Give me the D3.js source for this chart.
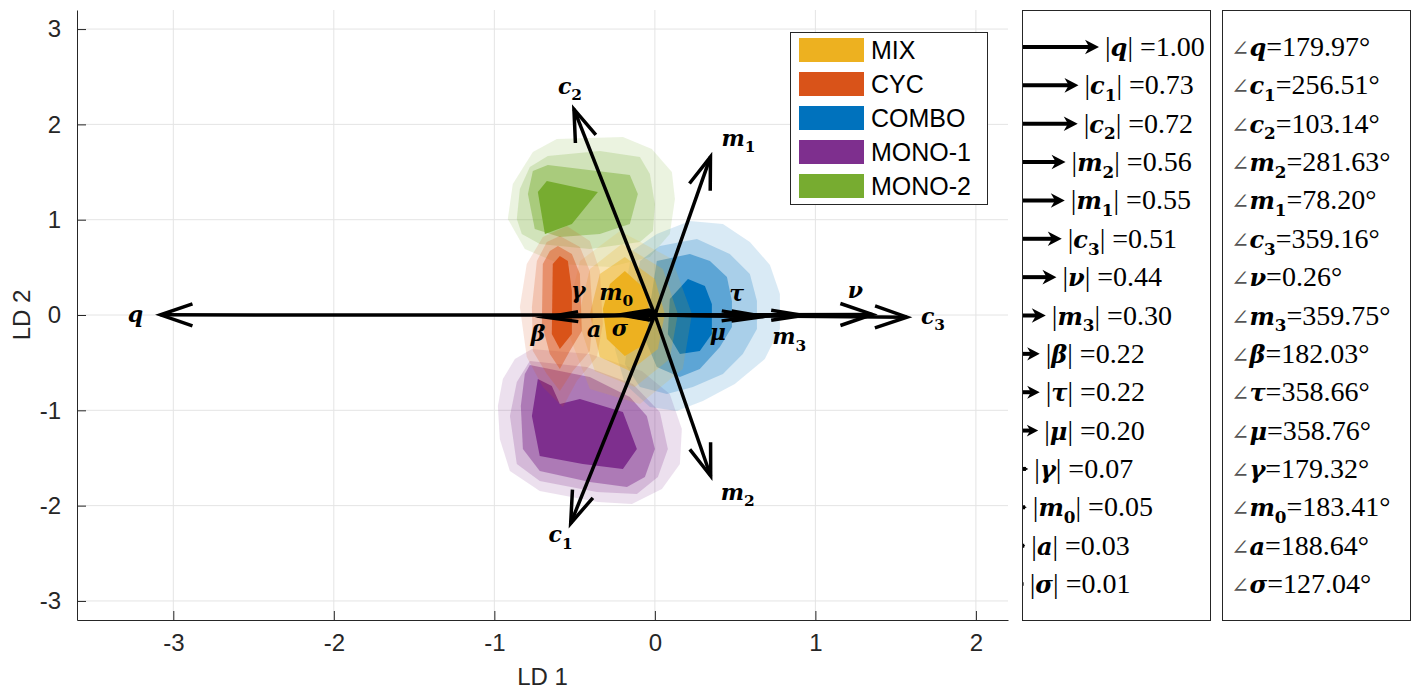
<!DOCTYPE html>
<html>
<head>
<meta charset="utf-8">
<script src="https://cdn.jsdelivr.net/npm/d3@7"></script>
<style>
  body { margin: 0; background: #fff; }
  svg { display: block; }
</style>
</head>
<body>
<svg id="chart" width="1413" height="690"></svg>
<script>
// groups and colours
const groups = ["MIX", "CYC", "COMBO", "MONO-1", "MONO-2"];
const groupColors = ["#EDB120", "#D95319", "#0072BD", "#7E2F8E", "#77AC30"];

// density contour levels per group (outer -> inner), in LD coordinates
const mixLevels = [
  [[-0.218,0.881],[0.106,0.588],[0.231,0.010],[0.174,-0.567],[-0.093,-0.934],[-0.405,-0.777],[-0.561,-0.094],[-0.467,0.567]],
  [[-0.206,0.745],[0.050,0.483],[0.143,0.010],[0.093,-0.462],[-0.125,-0.756],[-0.374,-0.588],[-0.480,-0.042],[-0.405,0.483]],
  [[-0.187,0.609],[0.000,0.378],[0.062,0.010],[0.019,-0.357],[-0.156,-0.588],[-0.343,-0.441],[-0.405,0.010],[-0.343,0.430]],
  [[-0.187,0.462],[-0.062,0.273],[-0.031,0.010],[-0.062,-0.304],[-0.187,-0.430],[-0.299,-0.252],[-0.324,0.063],[-0.280,0.325]]
];
const cycLevels = [
  [[-0.548,0.934],[-0.405,0.776],[-0.343,0.462],[-0.324,-0.094],[-0.361,-0.441],[-0.486,-0.693],[-0.573,-0.965],[-0.698,-0.756],[-0.798,-0.441],[-0.841,0.084],[-0.798,0.535],[-0.698,0.818]],
  [[-0.592,0.829],[-0.467,0.714],[-0.405,0.462],[-0.386,-0.021],[-0.405,-0.378],[-0.511,-0.588],[-0.592,-0.797],[-0.673,-0.619],[-0.760,-0.378],[-0.766,0.084],[-0.735,0.567],[-0.673,0.766]],
  [[-0.604,0.724],[-0.517,0.640],[-0.467,0.430],[-0.455,-0.168],[-0.530,-0.378],[-0.592,-0.567],[-0.654,-0.409],[-0.704,-0.094],[-0.698,0.535],[-0.654,0.672]],
  [[-0.592,0.619],[-0.542,0.567],[-0.517,0.252],[-0.517,-0.199],[-0.592,-0.357],[-0.642,-0.199],[-0.636,0.535]]
];
const comboLevels = [
  [[-0.143,0.672],[0.012,0.850],[0.218,0.986],[0.424,0.955],[0.592,0.766],[0.717,0.525],[0.779,0.220],[0.779,-0.147],[0.685,-0.462],[0.498,-0.724],[0.299,-0.902],[0.137,-1.007],[-0.031,-0.965],[-0.187,-0.724],[-0.249,-0.357]],
  [[-0.093,0.567],[0.031,0.724],[0.262,0.797],[0.467,0.640],[0.592,0.430],[0.636,0.147],[0.636,-0.147],[0.548,-0.409],[0.424,-0.619],[0.237,-0.756],[0.075,-0.829],[-0.093,-0.756],[-0.187,-0.514]],
  [[0.012,0.567],[0.218,0.640],[0.343,0.567],[0.449,0.399],[0.480,0.147],[0.480,-0.126],[0.405,-0.336],[0.280,-0.567],[0.156,-0.651],[0.012,-0.546],[-0.062,-0.252]],
  [[0.206,0.378],[0.312,0.304],[0.355,0.115],[0.355,-0.199],[0.280,-0.378],[0.156,-0.409],[0.081,-0.199],[0.093,0.168]]
];
const mono1Levels = [
  [[-0.947,-0.672],[-0.872,-0.462],[-0.766,-0.357],[-0.405,-0.409],[-0.081,-0.588],[0.093,-0.829],[0.168,-1.196],[0.156,-1.563],[0.044,-1.826],[-0.143,-1.983],[-0.355,-1.962],[-0.717,-1.847],[-0.903,-1.637],[-0.966,-1.301],[-0.978,-0.955]],
  [[-0.860,-0.703],[-0.779,-0.483],[-0.424,-0.546],[-0.137,-0.724],[0.031,-1.018],[0.081,-1.406],[0.019,-1.700],[-0.112,-1.878],[-0.361,-1.857],[-0.717,-1.742],[-0.860,-1.563],[-0.903,-1.060]],
  [[-0.810,-0.619],[-0.779,-0.525],[-0.405,-0.651],[-0.156,-0.860],[-0.050,-1.060],[0.000,-1.406],[-0.062,-1.700],[-0.174,-1.805],[-0.405,-1.752],[-0.717,-1.637],[-0.822,-1.406],[-0.835,-0.955]],
  [[-0.729,-0.672],[-0.642,-0.745],[-0.592,-0.934],[-0.467,-0.881],[-0.199,-1.018],[-0.112,-1.406],[-0.199,-1.616],[-0.449,-1.563],[-0.717,-1.480],[-0.766,-1.060]]
];
const mono2Levels = [
  [[-0.916,1.007],[-0.885,1.375],[-0.760,1.710],[-0.611,1.847],[-0.199,1.868],[-0.019,1.742],[0.106,1.501],[0.125,1.217],[0.093,0.850],[-0.031,0.609],[-0.280,0.504],[-0.592,0.535],[-0.810,0.693]],
  [[-0.860,1.007],[-0.841,1.322],[-0.779,1.553],[-0.667,1.668],[-0.343,1.721],[-0.093,1.658],[-0.031,1.480],[0.000,1.165],[-0.012,0.881],[-0.093,0.766],[-0.405,0.693],[-0.717,0.745],[-0.829,0.850]],
  [[-0.791,1.270],[-0.760,1.511],[-0.667,1.574],[-0.156,1.469],[-0.106,1.270],[-0.156,0.955],[-0.343,0.850],[-0.592,0.818],[-0.748,0.902]],
  [[-0.729,1.291],[-0.673,1.406],[-0.355,1.291],[-0.517,0.955],[-0.685,0.850]]
];

// loading vectors (sorted by magnitude)
const vecKeys   = ["q", "c1", "c2", "m2", "m1", "c3", "nu", "m3", "beta", "tau", "mu", "gamma", "m0", "a", "sigma"];
const vecBase   = ["q", "c", "c", "m", "m", "c", "ν", "m", "β", "τ", "μ", "γ", "m", "a", "σ"];
const vecSub    = ["", "1", "2", "2", "1", "3", "", "3", "", "", "", "", "0", "", ""];
const vecMags   = [1.00, 0.73, 0.72, 0.56, 0.55, 0.51, 0.44, 0.30, 0.22, 0.22, 0.20, 0.07, 0.05, 0.03, 0.01];
const vecAngles = [179.97, 256.51, 103.14, 281.63, 78.20, 359.16, 0.26, 359.75, 182.03, 358.66, 358.76, 179.32, 183.41, 188.64, 127.04];

const xTicks = [-3, -2, -1, 0, 1, 2];
const yTicks = [-3, -2, -1, 0, 1, 2, 3];

const arrowScale = 3.08; // biplot scaling of loadings

var svg = d3.select("#chart");
var pL = 77, pR = 1008, pT = 10, pB = 620;

var x = d3.scaleLinear().domain([-3.6, 2.2]).range([pL, pR]);
var y = d3.scaleLinear().domain([-3.2, 3.2]).range([pB, pT]);

var sansFont = "'Liberation Sans', Arial, Helvetica, sans-serif";
var serifFont = "'DejaVu Serif', 'Liberation Serif', serif";
var numFont = "'Liberation Serif', 'Times New Roman', serif";

// grid
svg.append("g").selectAll("line").data(xTicks).enter().append("line")
    .attr("x1", d => x(d)).attr("x2", d => x(d))
    .attr("y1", pT).attr("y2", pB)
    .attr("stroke", "#e4e4e4").attr("stroke-width", 1);
svg.append("g").selectAll("line").data(yTicks).enter().append("line")
    .attr("y1", d => y(d)).attr("y2", d => y(d))
    .attr("x1", pL).attr("x2", pR)
    .attr("stroke", "#e4e4e4").attr("stroke-width", 1);

// contours
var levelOpacity = [0.15, 0.22, 0.45, 1.0];
var drawOrder = [
    { levels: mono1Levels, color: groupColors[3] },
    { levels: mono2Levels, color: groupColors[4] },
    { levels: comboLevels, color: groupColors[2] },
    { levels: mixLevels, color: groupColors[0] },
    { levels: cycLevels, color: groupColors[1] }
];
var line = d3.line().x(d => x(d[0])).y(d => y(d[1])).curve(d3.curveLinearClosed);
var cg = svg.append("g");
drawOrder.forEach(function (g) {
    cg.append("g").selectAll("path").data(g.levels).enter().append("path")
        .attr("d", line)
        .attr("fill", g.color)
        .attr("fill-opacity", (d, i) => levelOpacity[i]);
});

// axes (box off, ticks inward)
var xAxis = d3.axisBottom(x).tickValues(xTicks).tickSizeInner(-9).tickSizeOuter(0).tickPadding(14);
var yAxis = d3.axisLeft(y).tickValues(yTicks).tickSizeInner(-9).tickSizeOuter(0).tickPadding(16);
var gx = svg.append("g").attr("transform", "translate(0," + pB + ")").call(xAxis);
var gy = svg.append("g").attr("transform", "translate(" + pL + ",0)").call(yAxis);
[gx, gy].forEach(function (g) {
    g.select(".domain").attr("stroke", "#262626").attr("stroke-width", 1);
    g.selectAll(".tick line").attr("stroke", "#262626");
    g.selectAll(".tick text").attr("fill", "#262626")
        .style("font-family", sansFont).style("font-size", "24px");
});
gx.selectAll(".tick text").text(d => d < 0 ? "-" + Math.abs(d) : d);
gy.selectAll(".tick text").text(d => d < 0 ? "-" + Math.abs(d) : d);

svg.append("text").attr("x", (pL + pR) / 2).attr("y", 685)
    .attr("text-anchor", "middle").attr("fill", "#262626")
    .style("font-family", sansFont).style("font-size", "24px").text("LD 1");
svg.append("text").attr("transform", "translate(30," + y(0) + ") rotate(-90)")
    .attr("text-anchor", "middle").attr("fill", "#262626")
    .style("font-family", sansFont).style("font-size", "24px").text("LD 2");

// math label helper: bold italic symbol with optional subscript
function mathLabel(sel, base, sub, size) {
    sel.append("tspan").attr("font-weight", "bold").attr("font-style", "italic").text(base);
    if (sub) {
        sel.append("tspan").attr("font-weight", "bold").attr("font-size", (size * 0.7) + "px")
            .attr("dy", (size * 0.28) + "px").text(sub);
        return -size * 0.28;
    }
    return 0;
}

// biplot arrows
var labelOffset = {
    q: [-25, 0], c3: [26, 0], c2: [-4, -22], c1: [-10, 12], m1: [28, -18], m2: [27, 17],
    nu: [-17, -23], m3: [-14, 22], tau: [-27, -23], mu: [-36, 17], beta: [-8, 17],
    gamma: [-42, -24], m0: [-14, -23], a: [-46, 14], sigma: [-32, 16]
};
var ag = svg.append("g");
var x0 = x(0), y0 = y(0);
vecKeys.forEach(function (k, i) {
    var r = vecMags[i] * arrowScale, th = vecAngles[i] * Math.PI / 180;
    var tx = x(r * Math.cos(th)), ty = y(r * Math.sin(th));
    var dx = x0 - tx, dy = y0 - ty, L = Math.sqrt(dx * dx + dy * dy);
    ag.append("line").attr("x1", x0).attr("y1", y0).attr("x2", tx).attr("y2", ty)
        .attr("stroke", "#000").attr("stroke-width", 3.5);
    if (L > 2) {
        var ux = dx / L, uy = dy / L;
        var hl = Math.min(32, L * 0.85), hw = L > 150 ? 11 : 5;
        var bx = tx + ux * hl, by = ty + uy * hl;
        ag.append("path")
            .attr("d", "M" + (bx - uy * hw) + "," + (by + ux * hw) + "L" + tx + "," + ty + "L" + (bx + uy * hw) + "," + (by - ux * hw))
            .attr("fill", "none").attr("stroke", "#000").attr("stroke-width", 3.5)
            .attr("stroke-miterlimit", 10);
    }
    var off = labelOffset[k];
    var t = ag.append("text").attr("x", tx + off[0]).attr("y", ty + off[1] + 7)
        .attr("text-anchor", "middle").attr("fill", "#000")
        .style("font-family", serifFont).style("font-size", "22px");
    mathLabel(t, vecBase[i], vecSub[i], 22);
});

// legend
var lg = svg.append("g");
lg.append("rect").attr("x", 790.5).attr("y", 32.5).attr("width", 197).attr("height", 172)
    .attr("fill", "#fff").attr("stroke", "#262626").attr("stroke-width", 1);
var li = lg.selectAll("g.item").data(groups).enter().append("g").attr("class", "item")
    .attr("transform", (d, i) => "translate(0," + (50 + i * 34) + ")");
li.append("rect").attr("x", 799).attr("y", -12).attr("width", 65).attr("height", 24)
    .attr("fill", (d, i) => groupColors[i]);
li.append("text").attr("x", 871).attr("y", 9).attr("fill", "#000")
    .style("font-family", sansFont).style("font-size", "25px").text(d => d);

// side panels
var p1x = 1022.5, p2x = 1222.5, pw = 188;
svg.append("rect").attr("x", p1x).attr("y", pT + 0.5).attr("width", pw).attr("height", pB - pT)
    .attr("fill", "none").attr("stroke", "#262626").attr("stroke-width", 1);
svg.append("rect").attr("x", p2x).attr("y", pT + 0.5).attr("width", pw).attr("height", pB - pT)
    .attr("fill", "none").attr("stroke", "#262626").attr("stroke-width", 1);

var mag = d3.scaleLinear().domain([0, 1]).range([1023, 1099]);
var row = d3.scaleLinear().domain([0, vecKeys.length - 1]).range([47, 584]);
var pg = svg.append("g");
var symSize = 24;
vecKeys.forEach(function (k, i) {
    var ry = row(i), tip = mag(vecMags[i]), len = tip - mag(0);
    var hl = Math.min(14, len * 0.75), hw = Math.max(1.2, hl * 0.52);
    pg.append("line").attr("x1", mag(0)).attr("x2", tip - hl * 0.6).attr("y1", ry).attr("y2", ry)
        .attr("stroke", "#000").attr("stroke-width", 4);
    pg.append("path")
        .attr("d", "M" + (tip - hl) + "," + (ry - hw) + "L" + tip + "," + ry + "L" + (tip - hl) + "," + (ry + hw) + "L" + (tip - hl * 0.7) + "," + ry + "Z")
        .attr("fill", "#000");

    var t1 = pg.append("text").attr("x", tip + 6).attr("y", ry + 9).attr("fill", "#000")
        .style("font-family", serifFont).style("font-size", symSize + "px");
    t1.append("tspan").attr("font-family", numFont).attr("font-size", "28px").text("|");
    var back = mathLabel(t1, vecBase[i], vecSub[i], symSize);
    t1.append("tspan").attr("font-family", numFont).attr("font-size", "28px").attr("dy", back + "px")
        .text("| =" + vecMags[i].toFixed(2));

    var t2 = pg.append("text").attr("x", 1231).attr("y", ry + 9).attr("fill", "#000")
        .style("font-family", serifFont).style("font-size", symSize + "px");
    t2.append("tspan").attr("fill", "#555").attr("font-size", "22px").text("\u2220");
    var back2 = mathLabel(t2, vecBase[i], vecSub[i], symSize);
    t2.append("tspan").attr("font-family", numFont).attr("font-size", "28px").attr("dy", back2 + "px")
        .text("=" + vecAngles[i].toFixed(2) + "\u00b0");
});
</script>
</body>
</html>
